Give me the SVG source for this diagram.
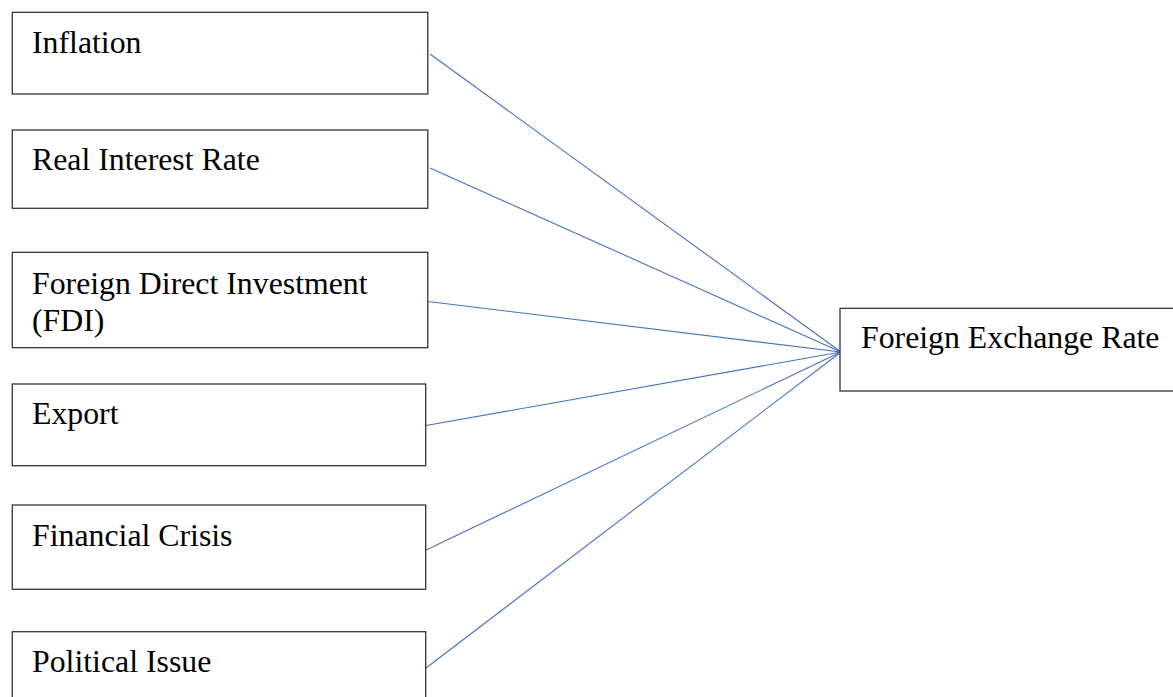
<svg xmlns="http://www.w3.org/2000/svg" width="1173" height="697" viewBox="0 0 1173 697">
<style>
.box{fill:#fff;stroke:#333;stroke-width:1.3}
.lbl{font-family:"Times New Roman","Liberation Serif",serif;font-size:31.8px;fill:#000}
.conn{stroke:#4472C4;stroke-width:1.1;fill:none}
</style>
<rect width="1173" height="697" fill="#fff"/>
<g id="connectors">
<line class="conn" x1="430" y1="54" x2="841" y2="352"/>
<line class="conn" x1="430" y1="168" x2="841" y2="352"/>
<line class="conn" x1="428" y1="301.5" x2="841" y2="352"/>
<line class="conn" x1="426" y1="425.5" x2="841" y2="352"/>
<line class="conn" x1="424" y1="551" x2="841" y2="352"/>
<line class="conn" x1="426" y1="668" x2="841" y2="352"/>
</g>
<g id="inflation">
<rect class="box" x="12.3" y="12.3" width="415.5" height="81.7"/>
<text class="lbl" x="32" y="52.5">Inflation</text>
</g>
<g id="real-interest-rate">
<rect class="box" x="12.3" y="130" width="415.5" height="78.3"/>
<text class="lbl" x="32" y="169.5">Real Interest Rate</text>
</g>
<g id="fdi">
<rect class="box" x="12.3" y="252.3" width="415.5" height="95.4"/>
<text class="lbl" x="32" y="293.5">Foreign Direct Investment</text>
<text class="lbl" x="32" y="330.5">(FDI)</text>
</g>
<g id="export">
<rect class="box" x="12.3" y="384" width="413.4" height="81.7"/>
<text class="lbl" x="32" y="424">Export</text>
</g>
<g id="financial-crisis">
<rect class="box" x="12.3" y="505" width="413.4" height="84.3"/>
<text class="lbl" x="32" y="545.5">Financial Crisis</text>
</g>
<g id="political-issue">
<rect class="box" x="12.3" y="631.7" width="413.4" height="80"/>
<text class="lbl" x="32" y="672.2">Political Issue</text>
</g>
<g id="foreign-exchange-rate">
<rect class="box" x="840" y="308.3" width="340" height="82.7"/>
<text class="lbl" x="861" y="348">Foreign Exchange Rate</text>
</g>
</svg>
